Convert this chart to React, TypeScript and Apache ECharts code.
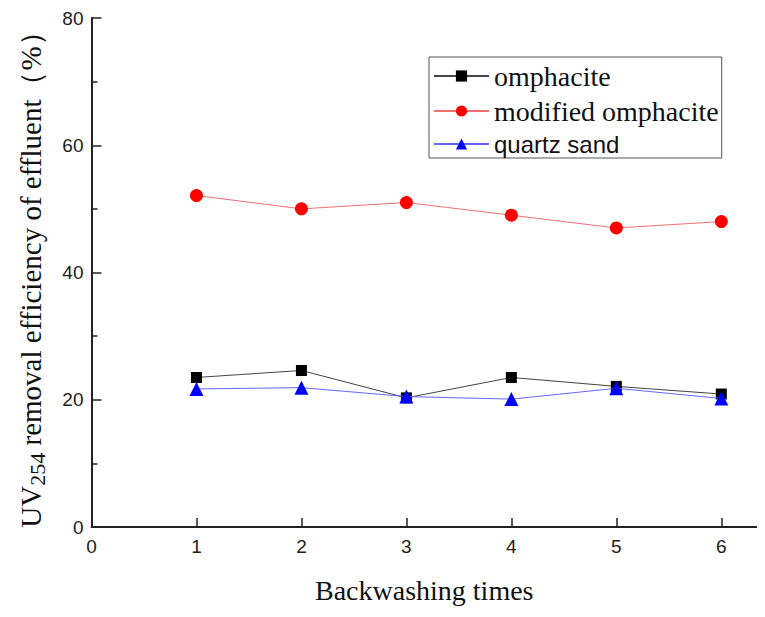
import React, { useEffect, useRef } from "react";
import * as echarts from "echarts";

const backwashTimes = [1, 2, 3, 4, 5, 6];
const omphacite = [23.5, 24.6, 20.3, 23.5, 22.1, 20.9];
const modifiedOmphacite = [52.1, 50.0, 51.0, 49.0, 47.0, 48.0];
const quartzSand = [21.7, 21.9, 20.5, 20.1, 21.8, 20.2];
const seriesNames = ["omphacite", "modified omphacite", "quartz sand"];
const xTicks = { min: 0, max: 6.34, interval: 1 };
const yTicks = { min: 0, max: 80, interval: 20 };

const pair = (vals: number[]) => backwashTimes.map((x, i) => [x, vals[i]]);

export default function App() {
  const ref = useRef<HTMLDivElement>(null);
  useEffect(() => {
    if (!ref.current) return;
    const chart = echarts.init(ref.current, null, { renderer: "svg" });
    const axisColor = "#222";
    const serifLegend = { fontFamily: "Liberation Serif", fontSize: 28, color: "#111" };
    const sansLegend = { fontFamily: "Liberation Sans", fontSize: 24, color: "#111" };
    chart.setOption({
      animation: false,
      backgroundColor: "#fff",
      grid: { left: 80, right: 0, top: 10, bottom: 71, containLabel: false },
      legend: {
        orient: "vertical",
        left: 421,
        top: 49,
        padding: [5, 3, 2, 4],
        itemWidth: 55,
        itemHeight: 14,
        itemGap: 7,
        borderColor: "#555",
        borderWidth: 1,
        data: [
          { name: seriesNames[0], textStyle: serifLegend },
          { name: seriesNames[1], textStyle: serifLegend },
          { name: seriesNames[2], textStyle: sansLegend },
        ],
        textStyle: serifLegend,
      },
      xAxis: {
        type: "value",
        min: xTicks.min,
        max: xTicks.max,
        interval: xTicks.interval,
        name: "Backwashing times",
        nameLocation: "middle",
        nameGap: 49,
        nameTextStyle: { fontFamily: "Liberation Serif", fontSize: 28, color: "#111" },
        axisLine: { lineStyle: { color: axisColor, width: 2 } },
        axisTick: { inside: true, length: 9, lineStyle: { color: axisColor, width: 1.5 } },
        axisLabel: {
          showMaxLabel: false,
          margin: 10,
          fontFamily: "Liberation Sans",
          fontSize: 19,
          color: "#222",
        },
        splitLine: { show: false },
      },
      yAxis: {
        type: "value",
        min: yTicks.min,
        max: yTicks.max,
        interval: yTicks.interval,
        name: "{main|UV}{sub|254}{main| removal efficiency of effluent（%）}",
        nameLocation: "middle",
        nameGap: 43,
        nameRotate: 90,
        nameTextStyle: {
          rich: {
            main: { fontFamily: "Liberation Serif", fontSize: 29, color: "#111" },
            sub: {
              fontFamily: "Liberation Serif",
              fontSize: 22,
              color: "#111",
              padding: [14, 0, 0, 0],
            },
          },
        },
        axisLine: { show: true, lineStyle: { color: axisColor, width: 2 } },
        axisTick: { inside: true, length: 10, lineStyle: { color: axisColor, width: 1.5 } },
        minorTick: { show: true, splitNumber: 2, length: 6, lineStyle: { color: axisColor, width: 1.5 } },
        axisLabel: { margin: 8, fontFamily: "Liberation Sans", fontSize: 19, color: "#222" },
        splitLine: { show: false },
      },
      series: [
        {
          name: seriesNames[0],
          type: "line",
          data: pair(omphacite),
          symbol: "rect",
          symbolSize: 11,
          itemStyle: { color: "#000" },
          lineStyle: { color: "#444", width: 1 },
          z: 3,
        },
        {
          name: seriesNames[1],
          type: "line",
          data: pair(modifiedOmphacite),
          symbol: "circle",
          symbolSize: 13,
          itemStyle: { color: "#ff0000" },
          lineStyle: { color: "#f07070", width: 1 },
        },
        {
          name: seriesNames[2],
          type: "line",
          data: pair(quartzSand),
          symbol: "triangle",
          symbolSize: 14,
          itemStyle: { color: "#0000ff" },
          lineStyle: { color: "#6666ff", width: 1 },
          z: 4,
        },
      ],
    });
    return () => chart.dispose();
  }, []);
  return <div ref={ref} style={{ width: 749, height: 601 }} />;
}
